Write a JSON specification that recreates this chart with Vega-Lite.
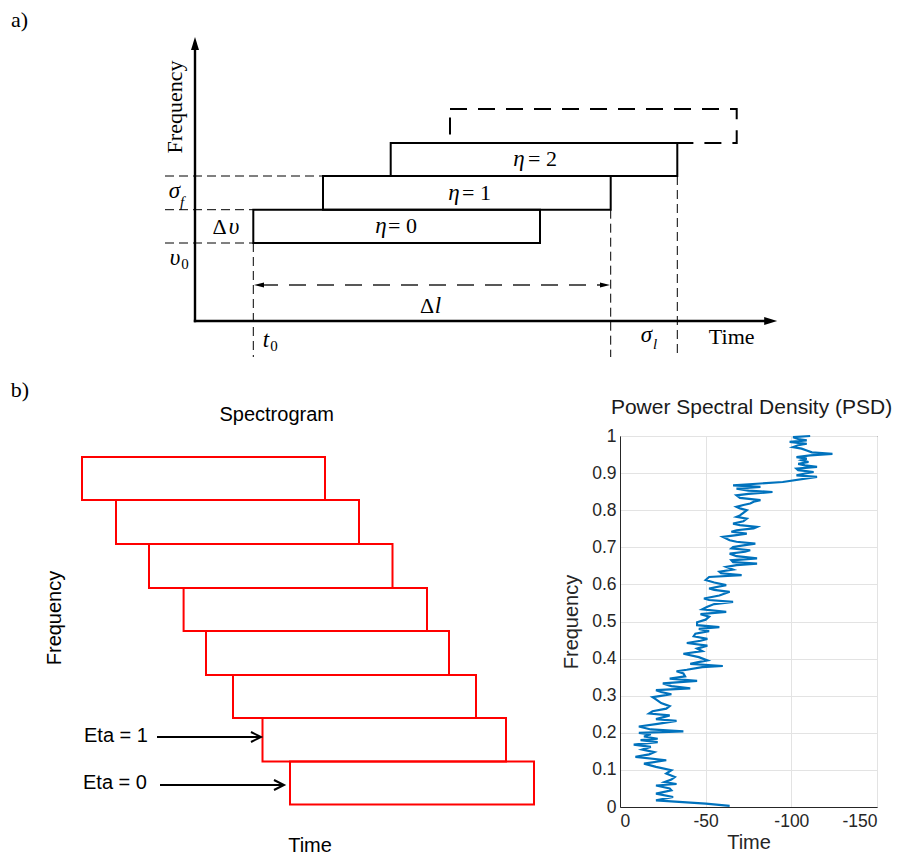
{
  "$schema": "https://vega.github.io/schema/vega-lite/v6.json",
  "padding": 0,
  "background": "white",
  "spacing": 0,
  "bounds": "flush",
  "config": {
    "view": {"stroke": null},
    "axis": {
      "labelFont": "Liberation Sans",
      "labelFontSize": 17.5,
      "labelColor": "#262626",
      "titleFont": "Liberation Sans",
      "titleFontSize": 20,
      "titleFontWeight": "normal",
      "titleColor": "#262626",
      "gridColor": "#e3e3e3",
      "domainColor": "#262626",
      "ticks": false
    },
    "title": {"font": "Liberation Sans", "fontSize": 21, "fontWeight": "normal", "color": "#1a1a1a"}
  },
  "vconcat": [
    {
      "width": 897,
      "height": 370,
      "encoding": {
        "x": {"field": "x", "type": "quantitative", "scale": {"domain": [-19.5, 70.2], "nice": false, "zero": false}, "axis": null},
        "y": {"field": "y", "type": "quantitative", "scale": {"domain": [-4.9, 32.1], "nice": false, "zero": false}, "axis": null}
      },
      "layer": [
        {
          "data": {"values": [
            {"eta": 0, "x": 5.83, "x2": 34.5, "y": 7.8, "y2": 11.13},
            {"eta": 1, "x": 12.8, "x2": 41.57, "y": 11.13, "y2": 14.5},
            {"eta": 2, "x": 19.57, "x2": 48.23, "y": 14.5, "y2": 17.8}
          ]},
          "mark": {"type": "rect", "filled": false, "stroke": "#000000", "strokeWidth": 2},
          "encoding": {"x2": {"field": "x2"}, "y2": {"field": "y2"}}
        },
        {
          "data": {"values": [{"eta": 3, "x": 25.5, "x2": 54.17, "y": 17.8, "y2": 21.2}]},
          "mark": {"type": "rect", "filled": false, "stroke": "#000000", "strokeWidth": 2, "strokeDash": [17, 11]},
          "encoding": {"x2": {"field": "x2"}, "y2": {"field": "y2"}}
        },
        {
          "data": {"values": [
            {"name": "frequency axis", "x": 0, "y": 0, "x2": 0, "y2": 27.3},
            {"name": "time axis", "x": 0, "y": 0, "x2": 57.2, "y2": 0}
          ]},
          "mark": {"type": "rule", "color": "#000000", "strokeWidth": 2.4, "strokeCap": "square"},
          "encoding": {"x2": {"field": "x2"}, "y2": {"field": "y2"}}
        },
        {
          "data": {"values": [
            {"name": "sigma_f top", "x": -3, "y": 14.5, "x2": 12.8, "y2": 14.5},
            {"name": "nu0 + dnu", "x": -3, "y": 11.13, "x2": 5.83, "y2": 11.13},
            {"name": "nu0", "x": -3, "y": 7.8, "x2": 5.83, "y2": 7.8},
            {"name": "t0", "x": 5.83, "y": 7.8, "x2": 5.83, "y2": -3.6},
            {"name": "end eta1", "x": 41.57, "y": 11.13, "x2": 41.57, "y2": -3.6},
            {"name": "end eta2", "x": 48.23, "y": 14.5, "x2": 48.23, "y2": -3.6}
          ]},
          "mark": {"type": "rule", "color": "#000000", "strokeWidth": 1, "strokeDash": [9, 5]},
          "encoding": {"x2": {"field": "x2"}, "y2": {"field": "y2"}}
        },
        {
          "data": {"values": [{"name": "delta l", "x": 6.6, "y": 3.6, "x2": 40.8, "y2": 3.6}]},
          "mark": {"type": "rule", "color": "#222222", "strokeWidth": 1.4, "strokeDash": [17, 11]},
          "encoding": {"x2": {"field": "x2"}, "y2": {"field": "y2"}}
        },
        {
          "data": {"values": [
            {"dir": "axis-up", "x": 0, "y": 27.75},
            {"dir": "axis-right", "x": 57.57, "y": 0},
            {"dir": "dl-left", "x": 6.4, "y": 3.6},
            {"dir": "dl-right", "x": 41.0, "y": 3.6}
          ]},
          "mark": {"type": "point", "filled": true, "color": "#000000", "opacity": 1, "size": 400, "strokeWidth": 0},
          "encoding": {
            "shape": {"field": "dir", "type": "nominal", "legend": null,
              "scale": {"domain": ["axis-up", "axis-right", "dl-left", "dl-right"],
                "range": ["M0,-0.65L0.4,0.65L-0.4,0.65Z", "M0.65,0L-0.65,-0.4L-0.65,0.4Z", "M-0.5,0L0.5,-0.25L0.5,0.25Z", "M0.5,0L-0.5,-0.25L-0.5,0.25Z"]}}
          }
        },
        {
          "data": {"values": [
            {"x": -17.55, "y": 30.1, "text": "a)"},
            {"x": 53.67, "y": -1.57, "text": "Time"},
            {"x": 2.45, "y": 9.43, "text": "Δ"},
            {"x": 23.2, "y": 1.5, "text": "Δ"}
          ]},
          "mark": {"type": "text", "font": "Liberation Serif", "fontSize": 22, "align": "center", "baseline": "middle", "color": "#000000"},
          "encoding": {"text": {"field": "text"}}
        },
        {
          "data": {"values": [
            {"x": 19.3, "y": 9.5, "text": "= 0"},
            {"x": 26.7, "y": 12.8, "text": "= 1"},
            {"x": 33.3, "y": 16.2, "text": "= 2"}
          ]},
          "mark": {"type": "text", "font": "Liberation Serif", "fontSize": 22, "align": "left", "baseline": "middle", "color": "#000000"},
          "encoding": {"text": {"field": "text"}}
        },
        {
          "data": {"values": [
            {"x": -2.05, "y": 13.0, "text": "σ"},
            {"x": -2.0, "y": 6.3, "text": "υ"},
            {"x": 3.9, "y": 9.43, "text": "υ"},
            {"x": 24.3, "y": 1.5, "text": "l"},
            {"x": 7.1, "y": -1.9, "text": "t"},
            {"x": 45.15, "y": -1.4, "text": "σ"},
            {"x": 18.6, "y": 9.5, "text": "η"},
            {"x": 25.9, "y": 12.8, "text": "η"},
            {"x": 32.4, "y": 16.2, "text": "η"}
          ]},
          "mark": {"type": "text", "font": "Liberation Serif", "fontSize": 23, "fontStyle": "italic", "align": "center", "baseline": "middle", "color": "#000000"},
          "encoding": {"text": {"field": "text"}}
        },
        {
          "data": {"values": [
            {"x": -1.3, "y": 11.9, "text": "f"},
            {"x": 46.0, "y": -2.3, "text": "l"}
          ]},
          "mark": {"type": "text", "font": "Liberation Serif", "fontSize": 15, "fontStyle": "italic", "align": "center", "baseline": "middle", "color": "#000000"},
          "encoding": {"text": {"field": "text"}}
        },
        {
          "data": {"values": [
            {"x": -1.0, "y": 5.7, "text": "0"},
            {"x": 7.9, "y": -2.5, "text": "0"}
          ]},
          "mark": {"type": "text", "font": "Liberation Serif", "fontSize": 15, "align": "center", "baseline": "middle", "color": "#000000"},
          "encoding": {"text": {"field": "text"}}
        },
        {
          "data": {"values": [{"x": -2.0, "y": 21.4, "text": "Frequency"}]},
          "mark": {"type": "text", "font": "Liberation Serif", "fontSize": 22, "angle": 270, "align": "center", "baseline": "middle", "color": "#000000"},
          "encoding": {"text": {"field": "text"}}
        }
      ]
    },
    {
      "spacing": 60,
      "bounds": "flush",
      "hconcat": [
        {
          "width": 560,
          "height": 485,
          "encoding": {
            "x": {"field": "x", "type": "quantitative", "scale": {"domain": [0, 56], "nice": false, "zero": false}, "axis": null},
            "y": {"field": "y", "type": "quantitative", "scale": {"domain": [0, 48.5], "nice": false, "zero": false}, "axis": null}
          },
          "layer": [
            {
              "data": {"values": [
                {"eta": 7, "x": 8.2, "x2": 32.5, "y": 35.5, "y2": 39.8},
                {"eta": 6, "x": 11.6, "x2": 35.9, "y": 31.1, "y2": 35.5},
                {"eta": 5, "x": 14.9, "x2": 39.25, "y": 26.7, "y2": 31.1},
                {"eta": 4, "x": 18.36, "x2": 42.7, "y": 22.4, "y2": 26.7},
                {"eta": 3, "x": 20.6, "x2": 44.9, "y": 18.0, "y2": 22.4},
                {"eta": 2, "x": 23.3, "x2": 47.6, "y": 13.7, "y2": 18.0},
                {"eta": 1, "x": 26.25, "x2": 50.6, "y": 9.35, "y2": 13.7},
                {"eta": 0, "x": 29.0, "x2": 53.4, "y": 5.05, "y2": 9.35}
              ]},
              "mark": {"type": "rect", "filled": false, "stroke": "#ff0000", "strokeWidth": 2},
              "encoding": {"x2": {"field": "x2"}, "y2": {"field": "y2"}}
            },
            {
              "data": {"values": [
                {"x": 15.7, "y": 11.8, "x2": 26.0, "y2": 11.8},
                {"x": 16.0, "y": 7.0, "x2": 28.3, "y2": 7.0}
              ]},
              "mark": {"type": "rule", "color": "#000000", "strokeWidth": 2},
              "encoding": {"x2": {"field": "x2"}, "y2": {"field": "y2"}}
            },
            {
              "data": {"values": [
                {"x": 26.1, "y": 11.8},
                {"x": 28.4, "y": 7.0}
              ]},
              "mark": {"type": "point", "shape": "M-1,-0.5L0,0L-1,0.5", "filled": false, "color": "#000000", "opacity": 1, "strokeWidth": 2, "size": 400}
            },
            {
              "data": {"values": [{"x": 2.0, "y": 46.5, "text": "b)"}]},
              "mark": {"type": "text", "font": "Liberation Serif", "fontSize": 22, "align": "center", "baseline": "middle", "color": "#000000"},
              "encoding": {"text": {"field": "text"}}
            },
            {
              "data": {"values": [
                {"x": 27.67, "y": 44.0, "text": "Spectrogram"},
                {"x": 31.0, "y": 0.9, "text": "Time"}
              ]},
              "mark": {"type": "text", "font": "Liberation Sans", "fontSize": 20, "align": "center", "baseline": "middle", "color": "#000000"},
              "encoding": {"text": {"field": "text"}}
            },
            {
              "data": {"values": [
                {"x": 8.4, "y": 11.9, "text": "Eta = 1"},
                {"x": 8.3, "y": 7.2, "text": "Eta = 0"}
              ]},
              "mark": {"type": "text", "font": "Liberation Sans", "fontSize": 20, "align": "left", "baseline": "middle", "color": "#000000"},
              "encoding": {"text": {"field": "text"}}
            },
            {
              "data": {"values": [{"x": 5.5, "y": 23.7, "text": "Frequency"}]},
              "mark": {"type": "text", "font": "Liberation Sans", "fontSize": 20, "angle": 270, "align": "center", "baseline": "middle", "color": "#000000"},
              "encoding": {"text": {"field": "text"}}
            }
          ]
        },
        {
          "spacing": 0,
          "bounds": "flush",
          "vconcat": [
            {
              "width": 257,
              "height": 66,
              "data": {"values": []},
              "mark": "point"
            },
            {
              "width": 257,
              "height": 371,
              "view": {"stroke": "#262626", "strokeWidth": 1},
              "title": {"text": "Power Spectral Density (PSD)", "offset": 9, "dx": 3},
              "data": {"values": [
                {"f": 0.003, "p": -64}, {"f": 0.009, "p": -50}, {"f": 0.018, "p": -21}, {"f": 0.027, "p": -31},
                {"f": 0.036, "p": -21}, {"f": 0.045, "p": -30}, {"f": 0.05, "p": -29}, {"f": 0.058, "p": -21},
                {"f": 0.062, "p": -33}, {"f": 0.067, "p": -26}, {"f": 0.074, "p": -30}, {"f": 0.081, "p": -32},
                {"f": 0.09, "p": -27}, {"f": 0.099, "p": -30}, {"f": 0.108, "p": -21}, {"f": 0.117, "p": -14},
                {"f": 0.126, "p": -27}, {"f": 0.135, "p": -9}, {"f": 0.142, "p": -17}, {"f": 0.148, "p": -20},
                {"f": 0.155, "p": -13}, {"f": 0.162, "p": -18}, {"f": 0.168, "p": -8}, {"f": 0.175, "p": -22},
                {"f": 0.18, "p": -12}, {"f": 0.184, "p": -22}, {"f": 0.19, "p": -14}, {"f": 0.196, "p": -18},
                {"f": 0.2, "p": -11}, {"f": 0.204, "p": -37}, {"f": 0.209, "p": -18}, {"f": 0.217, "p": -11},
                {"f": 0.224, "p": -22}, {"f": 0.232, "p": -33}, {"f": 0.237, "p": -21}, {"f": 0.243, "p": -26},
                {"f": 0.247, "p": -29}, {"f": 0.252, "p": -17}, {"f": 0.258, "p": -19}, {"f": 0.265, "p": -27},
                {"f": 0.272, "p": -29}, {"f": 0.28, "p": -24}, {"f": 0.29, "p": -21}, {"f": 0.296, "p": -19},
                {"f": 0.299, "p": -23}, {"f": 0.304, "p": -30}, {"f": 0.31, "p": -24}, {"f": 0.315, "p": -21},
                {"f": 0.32, "p": -41}, {"f": 0.326, "p": -30}, {"f": 0.333, "p": -25}, {"f": 0.34, "p": -45},
                {"f": 0.346, "p": -29}, {"f": 0.352, "p": -38}, {"f": 0.36, "p": -37}, {"f": 0.366, "p": -33},
                {"f": 0.37, "p": -39}, {"f": 0.377, "p": -48}, {"f": 0.38, "p": -60}, {"f": 0.386, "p": -41},
                {"f": 0.39, "p": -45}, {"f": 0.395, "p": -51}, {"f": 0.404, "p": -46}, {"f": 0.413, "p": -37},
                {"f": 0.42, "p": -48}, {"f": 0.427, "p": -45}, {"f": 0.435, "p": -51}, {"f": 0.442, "p": -39},
                {"f": 0.448, "p": -47}, {"f": 0.453, "p": -51}, {"f": 0.46, "p": -43}, {"f": 0.467, "p": -44},
                {"f": 0.474, "p": -52}, {"f": 0.48, "p": -46}, {"f": 0.485, "p": -58}, {"f": 0.49, "p": -45},
                {"f": 0.498, "p": -45}, {"f": 0.505, "p": -50}, {"f": 0.513, "p": -52}, {"f": 0.52, "p": -47},
                {"f": 0.526, "p": -62}, {"f": 0.533, "p": -48}, {"f": 0.54, "p": -51}, {"f": 0.547, "p": -55},
                {"f": 0.553, "p": -66}, {"f": 0.558, "p": -52}, {"f": 0.562, "p": -49}, {"f": 0.57, "p": -58},
                {"f": 0.58, "p": -64}, {"f": 0.585, "p": -55}, {"f": 0.589, "p": -52}, {"f": 0.598, "p": -62},
                {"f": 0.605, "p": -55}, {"f": 0.612, "p": -50}, {"f": 0.62, "p": -52}, {"f": 0.625, "p": -71},
                {"f": 0.63, "p": -59}, {"f": 0.634, "p": -58}, {"f": 0.64, "p": -66}, {"f": 0.647, "p": -62},
                {"f": 0.652, "p": -68}, {"f": 0.656, "p": -80}, {"f": 0.66, "p": -66}, {"f": 0.665, "p": -65},
                {"f": 0.67, "p": -80}, {"f": 0.676, "p": -68}, {"f": 0.683, "p": -64}, {"f": 0.688, "p": -73},
                {"f": 0.692, "p": -76}, {"f": 0.697, "p": -65}, {"f": 0.701, "p": -66}, {"f": 0.706, "p": -73},
                {"f": 0.71, "p": -79}, {"f": 0.715, "p": -68}, {"f": 0.719, "p": -64}, {"f": 0.728, "p": -60},
                {"f": 0.733, "p": -68}, {"f": 0.737, "p": -74}, {"f": 0.742, "p": -65}, {"f": 0.746, "p": -68},
                {"f": 0.751, "p": -78}, {"f": 0.755, "p": -80}, {"f": 0.76, "p": -70}, {"f": 0.764, "p": -66},
                {"f": 0.77, "p": -72}, {"f": 0.777, "p": -74}, {"f": 0.782, "p": -68}, {"f": 0.786, "p": -70},
                {"f": 0.793, "p": -72}, {"f": 0.8, "p": -74}, {"f": 0.805, "p": -70}, {"f": 0.809, "p": -68},
                {"f": 0.814, "p": -72}, {"f": 0.818, "p": -76}, {"f": 0.823, "p": -78}, {"f": 0.827, "p": -82},
                {"f": 0.833, "p": -70}, {"f": 0.84, "p": -68}, {"f": 0.844, "p": -75}, {"f": 0.849, "p": -89},
                {"f": 0.853, "p": -75}, {"f": 0.858, "p": -68}, {"f": 0.863, "p": -82}, {"f": 0.867, "p": -66},
                {"f": 0.872, "p": -82}, {"f": 0.876, "p": -95}, {"f": 0.89, "p": -115}, {"f": 0.894, "p": -103},
                {"f": 0.899, "p": -108}, {"f": 0.903, "p": -113}, {"f": 0.908, "p": -104}, {"f": 0.912, "p": -103},
                {"f": 0.917, "p": -115}, {"f": 0.921, "p": -108}, {"f": 0.925, "p": -104}, {"f": 0.93, "p": -110},
                {"f": 0.935, "p": -106}, {"f": 0.939, "p": -109}, {"f": 0.943, "p": -103}, {"f": 0.948, "p": -111},
                {"f": 0.952, "p": -124}, {"f": 0.956, "p": -112}, {"f": 0.961, "p": -109}, {"f": 0.966, "p": -106},
                {"f": 0.97, "p": -101}, {"f": 0.975, "p": -104}, {"f": 0.979, "p": -109}, {"f": 0.984, "p": -99},
                {"f": 0.988, "p": -109}, {"f": 0.992, "p": -104}, {"f": 0.997, "p": -101}, {"f": 1.0, "p": -111}
              ]},
              "mark": {"type": "line", "color": "#0072BD", "strokeWidth": 2.2},
              "encoding": {
                "x": {"field": "p", "type": "quantitative", "title": "Time",
                  "scale": {"domain": [0, -150], "nice": false, "zero": false},
                  "axis": {"values": [0, -50, -100, -150], "labelExpr": "toString(datum.value)", "grid": true, "labelPadding": 5, "titlePadding": 3}},
                "y": {"field": "f", "type": "quantitative", "title": "Frequency",
                  "scale": {"domain": [0, 1], "nice": false, "zero": false},
                  "axis": {"values": [0, 0.1, 0.2, 0.3, 0.4, 0.5, 0.6, 0.7, 0.8, 0.9, 1], "format": "~g", "grid": true, "labelPadding": 4, "titlePadding": 10}},
                "order": {"field": "f", "type": "quantitative"}
              }
            }
          ]
        }
      ]
    }
  ]
}
